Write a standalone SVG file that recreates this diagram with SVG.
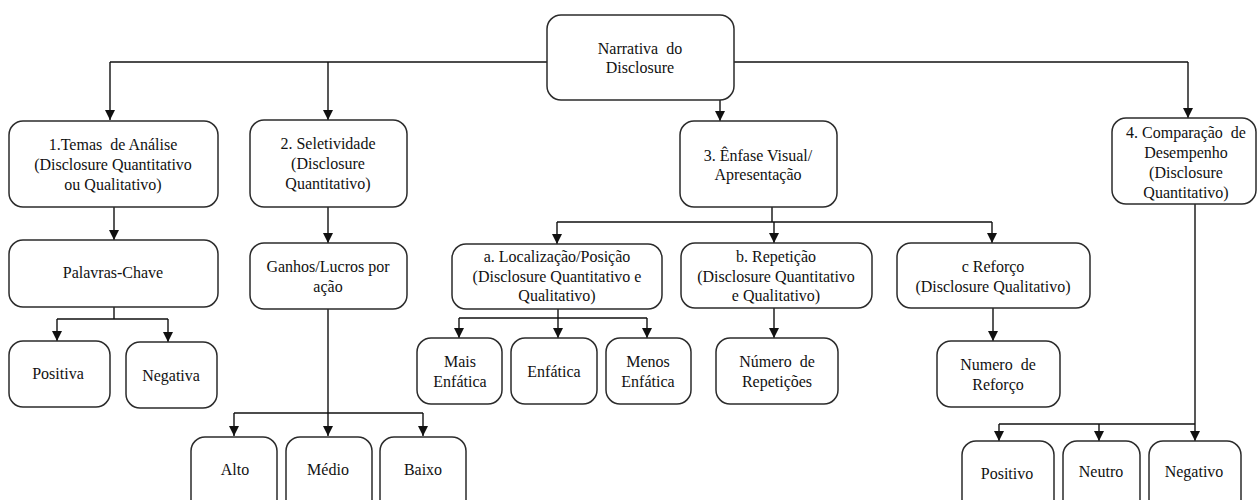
<svg xmlns="http://www.w3.org/2000/svg" width="1257" height="500" viewBox="0 0 1257 500">
<style>
.box{fill:#fff;stroke:#2b2b2b;stroke-width:1.5}
text{font-family:'Liberation Serif','Times New Roman','DejaVu Serif',serif;font-size:16px;fill:#111;text-anchor:middle}
.c{fill:none;stroke:#111;stroke-width:1.4}
</style>
<defs>
<marker id="ah" markerUnits="userSpaceOnUse" markerWidth="10" markerHeight="10" refX="10" refY="5" orient="auto" viewBox="0 0 10 10">
<path d="M0,0 L10,5 L0,10 z" fill="#111"/>
</marker>
</defs>
<rect width="1257" height="500" fill="#fff"/>
<g id="connectors">
<path class="c" d="M110,62 H1188"/>
<path class="c" d="M110,62 V120" marker-end="url(#ah)"/>
<path class="c" d="M328,62 V120" marker-end="url(#ah)"/>
<path class="c" d="M1188,62 V118" marker-end="url(#ah)"/>
<path class="c" d="M720,100 V121" marker-end="url(#ah)"/>
<path class="c" d="M114,207 V240" marker-end="url(#ah)"/>
<path class="c" d="M328,207 V243" marker-end="url(#ah)"/>
<path class="c" d="M114,307 V319 M57,319 H168"/>
<path class="c" d="M57,319 V341" marker-end="url(#ah)"/>
<path class="c" d="M168,319 V342" marker-end="url(#ah)"/>
<path class="c" d="M234,413 H423"/>
<path class="c" d="M328,293 V436" marker-end="url(#ah)"/>
<path class="c" d="M234,413 V436" marker-end="url(#ah)"/>
<path class="c" d="M423,413 V436" marker-end="url(#ah)"/>
<path class="c" d="M772,207 V222 M557,222 H992"/>
<path class="c" d="M557,222 V244" marker-end="url(#ah)"/>
<path class="c" d="M774,222 V243" marker-end="url(#ah)"/>
<path class="c" d="M992,222 V243" marker-end="url(#ah)"/>
<path class="c" d="M558,309 V318 M459,318 H647"/>
<path class="c" d="M459,318 V338" marker-end="url(#ah)"/>
<path class="c" d="M558,318 V338" marker-end="url(#ah)"/>
<path class="c" d="M647,318 V338" marker-end="url(#ah)"/>
<path class="c" d="M774,308 V338" marker-end="url(#ah)"/>
<path class="c" d="M993,308 V341" marker-end="url(#ah)"/>
<path class="c" d="M999,424 H1195"/>
<path class="c" d="M1195,204 V441" marker-end="url(#ah)"/>
<path class="c" d="M999,424 V441" marker-end="url(#ah)"/>
<path class="c" d="M1099,424 V441" marker-end="url(#ah)"/>
</g>
<g id="root"><rect class="box" x="547" y="15" width="187" height="85" rx="14"/><text x="640" y="54" xml:space="preserve">Narrativa  do</text><text x="640" y="73">Disclosure</text></g>
<g id="n1"><rect class="box" x="9" y="121" width="209" height="86" rx="14"/><text x="113" y="150" xml:space="preserve">1.Temas  de Análise</text><text x="113" y="170">(Disclosure Quantitativo</text><text x="113" y="190">ou Qualitativo)</text></g>
<g id="n2"><rect class="box" x="250" y="120" width="157" height="87" rx="14"/><text x="328" y="149">2. Seletividade</text><text x="328" y="169">(Disclosure</text><text x="328" y="189">Quantitativo)</text></g>
<g id="n3"><rect class="box" x="680" y="121" width="157" height="86" rx="14"/><text x="758" y="161">3. Ênfase Visual/</text><text x="758" y="180">Apresentação</text></g>
<g id="n4"><rect class="box" x="1112" y="118" width="144" height="86" rx="14"/><text x="1186" y="138" xml:space="preserve">4. Comparação  de</text><text x="1186" y="158">Desempenho</text><text x="1186" y="178">(Disclosure</text><text x="1186" y="198">Quantitativo)</text></g>
<g id="palavras"><rect class="box" x="9" y="240" width="209" height="67" rx="14"/><text x="113" y="278">Palavras-Chave</text></g>
<g id="positiva"><rect class="box" x="9" y="341" width="101" height="66" rx="14"/><text x="58" y="379">Positiva</text></g>
<g id="negativa"><rect class="box" x="126" y="342" width="91" height="66" rx="14"/><text x="171" y="381">Negativa</text></g>
<g id="ganhos"><rect class="box" x="250" y="243" width="157" height="66" rx="14"/><text x="328" y="272">Ganhos/Lucros por</text><text x="328" y="292">ação</text></g>
<g id="alto"><rect class="box" x="191" y="437" width="86" height="80" rx="14"/><text x="235" y="475">Alto</text></g>
<g id="medio"><rect class="box" x="286" y="437" width="86" height="80" rx="14"/><text x="328" y="475">Médio</text></g>
<g id="baixo"><rect class="box" x="380" y="437" width="86" height="80" rx="14"/><text x="423" y="475">Baixo</text></g>
<g id="localizacao"><rect class="box" x="452" y="244" width="210" height="65" rx="14"/><text x="557" y="262">a. Localização/Posição</text><text x="557" y="282">(Disclosure Quantitativo e</text><text x="557" y="301">Qualitativo)</text></g>
<g id="repeticao"><rect class="box" x="681" y="243" width="191" height="65" rx="14"/><text x="776" y="262">b. Repetição</text><text x="776" y="282">(Disclosure Quantitativo</text><text x="776" y="301">e Qualitativo)</text></g>
<g id="reforco"><rect class="box" x="897" y="243" width="193" height="65" rx="14"/><text x="993" y="272">c Reforço</text><text x="993" y="292">(Disclosure Qualitativo)</text></g>
<g id="mais"><rect class="box" x="417" y="338" width="85" height="66" rx="14"/><text x="460" y="367">Mais</text><text x="460" y="387">Enfática</text></g>
<g id="enfatica"><rect class="box" x="511" y="338" width="86" height="66" rx="14"/><text x="554" y="377">Enfática</text></g>
<g id="menos"><rect class="box" x="606" y="338" width="85" height="66" rx="14"/><text x="648" y="367">Menos</text><text x="648" y="387">Enfática</text></g>
<g id="numrep"><rect class="box" x="716" y="338" width="122" height="66" rx="14"/><text x="777" y="367" xml:space="preserve">Número  de</text><text x="777" y="387">Repetições</text></g>
<g id="numref"><rect class="box" x="937" y="341" width="123" height="66" rx="14"/><text x="998" y="370" xml:space="preserve">Numero  de</text><text x="998" y="390">Reforço</text></g>
<g id="positivo"><rect class="box" x="962" y="441" width="92" height="80" rx="14"/><text x="1007" y="479">Positivo</text></g>
<g id="neutro"><rect class="box" x="1063" y="441" width="77" height="80" rx="14"/><text x="1101" y="477">Neutro</text></g>
<g id="negativo"><rect class="box" x="1149" y="441" width="92" height="80" rx="14"/><text x="1194" y="477">Negativo</text></g>
</svg>
